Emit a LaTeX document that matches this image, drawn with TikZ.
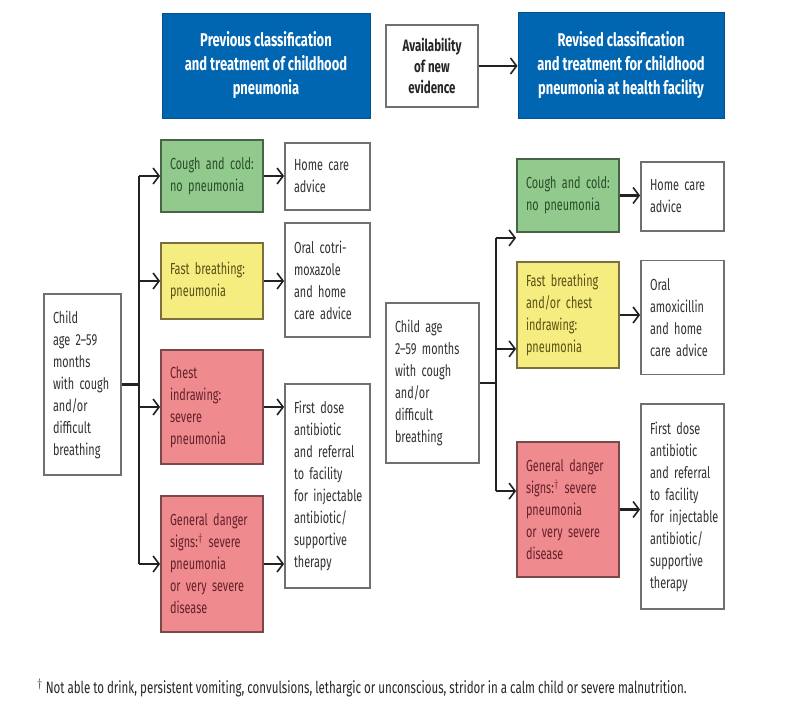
\documentclass[tikz,border=0pt]{standalone}
\usepackage{fontspec}
\setmainfont{Fira Sans}[FakeStretch=0.70]
\newfontfamily\boxfamily{Fira Sans}[FakeStretch=0.68, Ligatures=TeX]
\usetikzlibrary{arrows.meta}
\hyphenpenalty=10000
\exhyphenpenalty=10000
\hbadness=10000
\hfuzz=40pt
\newcommand\tightsp{\spaceskip=3pt plus 1pt minus 0.5pt\relax}
\definecolor{headblue}{RGB}{0,102,178}
\definecolor{gfill}{RGB}{146,201,141}
\definecolor{yfill}{RGB}{245,237,128}
\definecolor{rfill}{RGB}{239,139,143}
\definecolor{gline}{RGB}{72,100,70}
\definecolor{yline}{RGB}{122,112,62}
\definecolor{rline}{RGB}{122,72,72}
\definecolor{wline}{RGB}{112,112,112}
\definecolor{gtext}{RGB}{40,78,40}
\definecolor{ytext}{RGB}{88,80,22}
\definecolor{rtext}{RGB}{100,32,42}
\definecolor{wtext}{RGB}{50,50,50}
\definecolor{conncol}{RGB}{34,34,34}
\begin{document}
\begin{tikzpicture}[x=1pt,y=-1pt,
  basebox/.style={draw, line width=1.8pt, inner xsep=9pt, inner ysep=0pt, align=left,
    font=\boxfamily\fontsize{16}{22}\selectfont\tightsp},
  wbox/.style={basebox, draw=wline, fill=white, text=wtext},
  gbox/.style={basebox, draw=gline, fill=gfill, text=gtext},
  ybox/.style={basebox, draw=yline, fill=yfill, text=ytext},
  rbox/.style={basebox, draw=rline, fill=rfill, text=rtext},
  head/.style={fill=headblue, draw=headblue!80!black, line width=1pt, text=white, align=center,
    font=\fontsize{18.5}{24}\selectfont\bfseries\tightsp},
  availbox/.style={draw=wline, fill=white, line width=1.8pt, text=black!85, align=center,
    font=\fontsize{16.5}{21}\selectfont\bfseries\tightsp},
  conn/.style={draw=conncol, line width=2.6pt},
  arr/.style={conn, -{Straight Barb[length=6pt,width=16pt,line width=1.6pt]}},
  dim/.style n args={2}{minimum width=#1pt, minimum height=#2pt, text width=#1pt-18pt}
]
\useasboundingbox (0,0) rectangle (790,712);

% headers
\node[head, minimum width=208pt, minimum height=105pt] (blueL) at (266,65.5)
  {Previous classification\\and treatment of childhood\\pneumonia};
\node[availbox, minimum width=92pt, minimum height=82pt] (avail) at (432,66)
  {Availability\\of new\\evidence};
\node[head, minimum width=206pt, minimum height=106pt] (blueR) at (621,65)
  {Revised classification\\and treatment for childhood\\pneumonia at health facility};
\draw[arr] (avail.east) -- (avail.east -| blueR.west);

% left part
\node[wbox, dim={77}{181}] (childL) at (82.5,384.5)
  {Child\\age~2–59\\months\\with~cough\\and/or\\difficult\\breathing};
\node[gbox, dim={102}{72}] (greenL) at (212,176) {Cough~and~cold:\\no~pneumonia};
\node[wbox, dim={85}{67}] (homeL) at (327.5,176.5) {Home~care\\advice};
\node[ybox, dim={102}{76}] (yellowL) at (212,281) {Fast~breathing:\\pneumonia};
\node[wbox, dim={85}{114}] (oralL) at (327.5,280) {Oral~cotri-\\moxazole\\and~home\\care~advice};
\node[rbox, dim={102}{114}] (chestL) at (212,407) {Chest\\indrawing:\\severe\\pneumonia};
\node[wbox, dim={85}{204}] (firstL) at (327.5,486)
  {First~dose\\antibiotic\\and~referral\\to~facility\\for~injectable\\antibiotic/\\supportive\\therapy};
\node[rbox, dim={102}{136}] (genL) at (212,564)
  {General~danger\\signs:$^\dagger$~severe\\pneumonia\\or~very~severe\\disease};

\coordinate (tL) at (139,0);
\draw[conn] (childL.east) -- (childL.east -| tL);
\draw[conn] (tL |- greenL.west) -- (tL |- genL.west);
\draw[arr] (tL |- greenL.west) -- (greenL.west);
\draw[arr] (tL |- yellowL.west) -- (yellowL.west);
\draw[arr] (tL |- chestL.west) -- (chestL.west);
\draw[arr] (tL |- genL.west) -- (genL.west);
\draw[arr] (greenL.east) -- (greenL.east -| homeL.west);
\draw[arr] (yellowL.east) -- (yellowL.east -| oralL.west);
\draw[arr] (chestL.east) -- (chestL.east -| firstL.west);
\draw[arr] (genL.east) -- (genL.east -| firstL.west);

% right part
\node[wbox, dim={93}{160}] (childR) at (432.5,383)
  {Child~age\\2–59~months\\with~cough\\and/or\\difficult\\breathing};
\node[gbox, dim={102}{73}] (greenR) at (568,195.5) {Cough~and~cold:\\no~pneumonia};
\node[wbox, dim={83}{69}] (homeR) at (682.5,196.5) {Home~care\\advice};
\node[ybox, dim={102}{106}] (yellowR) at (568,315)
  {Fast~breathing\\and/or~chest\\indrawing:\\pneumonia};
\node[wbox, dim={83}{114}] (oralR) at (682.5,317.5) {Oral\\amoxicillin\\and~home\\care~advice};
\node[rbox, dim={102}{135}] (genR) at (568,509.5)
  {General~danger\\signs:$^\dagger$~severe\\pneumonia\\or~very~severe\\disease};
\node[wbox, dim={83}{205}] (firstR) at (682.5,506.5)
  {First~dose\\antibiotic\\and~referral\\to~facility\\for~injectable\\antibiotic/\\supportive\\therapy};

\coordinate (tR) at (496,0);
\coordinate (aG) at ([yshift=-5pt]greenR.south west);
\coordinate (aY) at ([yshift=20pt]yellowR.south west);
\coordinate (aR) at ([yshift=-50pt]genR.north west);
\draw[conn] (childR.east) -- (childR.east -| tR);
\draw[conn] (tR |- aG) -- (tR |- aR);
\draw[arr] (tR |- aG) -- (aG);
\draw[arr] (tR |- aY) -- (aY);
\draw[arr] (tR |- aR) -- (aR);
\draw[arr] (greenR.east) -- (greenR.east -| homeR.west);
\draw[arr] (yellowR.east) -- (yellowR.east -| oralR.west);
\draw[arr] (genR.east) -- (genR.east -| firstR.west);

% footnote
\node[anchor=west, inner sep=0pt, text=black!85, font=\fontsize{16.5}{18}\selectfont\tightsp] (foot) at (37,688)
  {$^\dagger$\,Not able to drink, persistent vomiting, convulsions, lethargic or unconscious, stridor in a calm child or severe malnutrition.};
\end{tikzpicture}
\end{document}
